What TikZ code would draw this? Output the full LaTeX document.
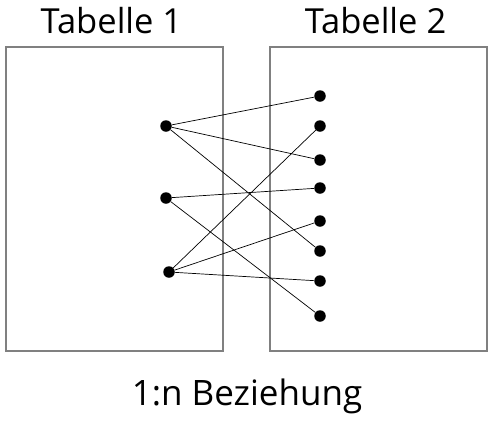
\documentclass[tikz,border=0pt]{standalone}
\usepackage{fontspec}
\setmainfont{Open Sans}
\usepackage{tikz}
\usepackage{xcolor}
\tikzset{
    dot/.style={circle,fill=black,inner sep=0pt,minimum size=11.5pt},
    tabelle/.style={draw=black!50,line width=2pt},
    titel/.style={anchor=base,font=\fontsize{34.5}{40}\selectfont},
    verbindung/.style={draw,line width=0.7pt},
}
\newcommand{\tabelle}[3] {
    \draw[tabelle] ({#1},47) rectangle ({#2},351);
    \node[titel] (t#3) at ({(#1+#2)/2-3},33) {Tabelle #3};
}
\begin{document}
\begin{tikzpicture}[x=1pt,y=-1pt]
        \useasboundingbox (0,0) rectangle (493,421);
        \tabelle{6}{223}{1}
        \tabelle{270}{487}{2}
        \node[dot] (l1) at (166,126) {};
        \node[dot] (l2) at (166,198) {};
        \node[dot] (l3) at (169,272) {};
        \foreach \i/\y in {1/96,2/126,3/160,4/188,5/221,6/251,7/281,8/316}
            \node[dot] (r\i) at (320,\y) {};
        \draw[verbindung] (l1) -- (r1);
        \draw[verbindung] (l1) -- (r3);
        \draw[verbindung] (l1) -- (r6);
        \draw[verbindung] (l2) -- (r4);
        \draw[verbindung] (l2) -- (r8);
        \draw[verbindung] (l3) -- (r2);
        \draw[verbindung] (l3) -- (r5);
        \draw[verbindung] (l3) -- (r7);
        \node[titel,font=\fontsize{35}{40}\selectfont] (beziehung) at (247,405) {1:n Beziehung};
    \end{tikzpicture}
\end{document}
